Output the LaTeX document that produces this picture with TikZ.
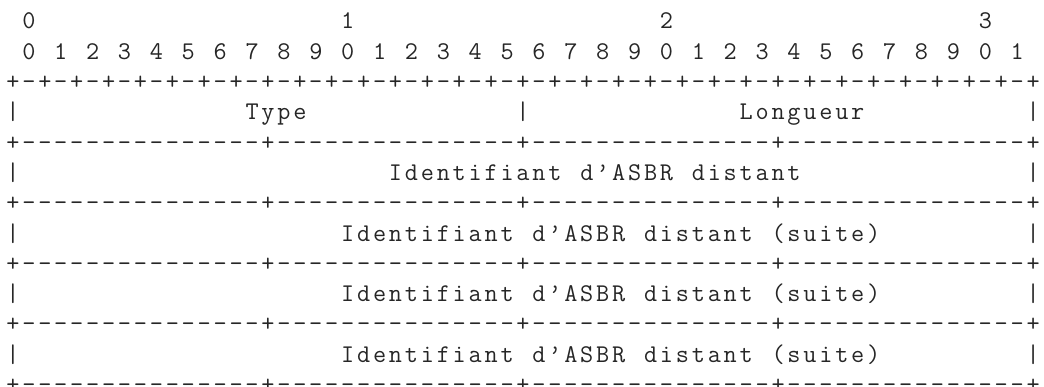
\documentclass[tikz,border=0pt]{standalone}
\usepackage{fontspec}
\newcommand\cw{15.94}
\makeatletter
\newcommand\gridstr[1]{\@tfor\gch:=#1\do{\makebox[\cw pt][c]{\gch}}}
\makeatother
\newcommand\placetxt[4]{\node[asc] (#1) at ({5+#2*\cw},{358-#3*30.3}) {\gridstr{#4}};}
\begin{document}
\begin{tikzpicture}[x=1pt,y=1pt,
  asc/.style={anchor=base west,inner sep=0pt,outer sep=0pt,text=black!85,
    font=\ttfamily\fontsize{25.5}{30}\selectfont}]
\useasboundingbox (0,0) rectangle (1044,387);
% row 0: tens
\placetxt{t0}{1}{0}{0}
\placetxt{t1}{21}{0}{1}
\placetxt{t2}{41}{0}{2}
\placetxt{t3}{61}{0}{3}
% row 1: units
\foreach \k in {0,...,31}{
  \pgfmathtruncatemacro\u{mod(\k,10)}
  \pgfmathtruncatemacro\c{2*\k+1}
  \placetxt{u\k}{\c}{1}{\u}
}
% row 2
\placetxt{r2}{0}{2}{+-+-+-+-+-+-+-+-+-+-+-+-+-+-+-+-+-+-+-+-+-+-+-+-+-+-+-+-+-+-+-+-+}
% row 3
\placetxt{r3a}{0}{3}{|}
\placetxt{type}{15}{3}{Type}
\placetxt{r3b}{32}{3}{|}
\placetxt{long}{46}{3}{Longueur}
\placetxt{r3c}{64}{3}{|}
% separators
\foreach \r in {4,6,8,10,12}{
  \placetxt{sep\r}{0}{\r}{+---------------+---------------+---------------+---------------+}
}
% row 5
\placetxt{r5a}{0}{5}{|}
\placetxt{w5a}{24}{5}{Identifiant}
\placetxt{w5b}{36}{5}{d’ASBR}
\placetxt{w5c}{43}{5}{distant}
\placetxt{r5b}{64}{5}{|}
% suite rows
\foreach \r in {7,9,11}{
  \placetxt{l\r}{0}{\r}{|}
  \placetxt{wa\r}{21}{\r}{Identifiant}
  \placetxt{wb\r}{33}{\r}{d’ASBR}
  \placetxt{wc\r}{40}{\r}{distant}
  \placetxt{wd\r}{48}{\r}{(suite)}
  \placetxt{rr\r}{64}{\r}{|}
}
\end{tikzpicture}
\end{document}
